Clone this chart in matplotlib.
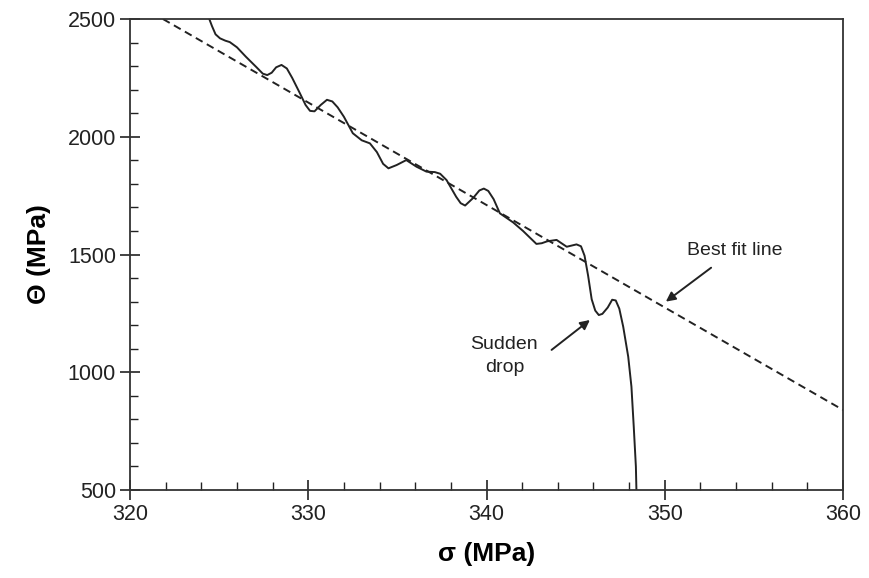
import matplotlib
matplotlib.use('Agg')
import matplotlib.pyplot as plt
from matplotlib.ticker import MultipleLocator

plt.rcParams['font.family'] = ['Liberation Sans', 'DejaVu Sans']

# ── Data ────────────────────────────────────────────────────
sigma = [324.45, 324.6, 324.8, 325.05, 325.35, 325.6, 326.0, 326.5, 327.1, 327.45,
         327.7, 327.95, 328.2, 328.5, 328.8, 329.1, 329.53, 329.85, 330.1, 330.35,
         330.7, 331.05, 331.35, 331.65, 332.0, 332.5, 333.0, 333.46, 333.85, 334.2,
         334.5, 334.96, 335.5, 336.07, 336.63, 337.1, 337.4, 337.76, 338.3, 338.55,
         338.8, 339.25, 339.6, 339.85, 340.1, 340.4, 340.75, 341.5, 342.05, 342.8,
         343.1, 343.4, 343.93, 344.5, 345.05, 345.3, 345.5, 345.7, 345.9, 346.1,
         346.3, 346.5, 346.8, 347.05, 347.25, 347.45, 347.67, 347.95, 348.13, 348.26,
         348.38, 348.41]
theta = [2500, 2470, 2435, 2418, 2408, 2402, 2380, 2340, 2295, 2268,
         2262, 2272, 2295, 2305, 2290, 2250, 2185, 2135, 2110, 2108,
         2135, 2157, 2150, 2125, 2085, 2015, 1985, 1972, 1935, 1885,
         1866, 1880, 1901, 1873, 1852, 1850, 1843, 1816, 1745, 1718,
         1708, 1740, 1772, 1780, 1770, 1735, 1675, 1636, 1600, 1545,
         1548, 1556, 1562, 1533, 1543, 1535, 1495, 1410, 1310, 1262,
         1243, 1248, 1275, 1308, 1305, 1270, 1193, 1066, 939, 769,
         599, 500]

fit_x = [321.85, 360]
fit_y = [2500, 840]

# ── Plot ─────────────────────────────────────────────────────
fig = plt.figure(figsize=(8.7, 5.78), dpi=100)
ax = fig.add_axes([0.1494, 0.1522, 0.8196, 0.8149])

ax.plot(sigma, theta, color='#222222', lw=1.4, solid_joinstyle='round')
ax.plot(fit_x, fit_y, color='#222222', lw=1.4, ls=(0, (4, 2.5)))

ax.set_xlim(320, 360)
ax.set_ylim(500, 2500)
ax.xaxis.set_major_locator(MultipleLocator(10))
ax.xaxis.set_minor_locator(MultipleLocator(2))
ax.yaxis.set_major_locator(MultipleLocator(500))
ax.yaxis.set_minor_locator(MultipleLocator(100))
ax.tick_params(which='major', direction='inout', length=14, width=1.2,
               labelsize=15.5, pad=3, colors='#222222')
ax.tick_params(which='minor', direction='in', length=6, width=1.0, colors='#222222')
for sp in ax.spines.values():
    sp.set_linewidth(1.3)
    sp.set_color('#333333')

ax.set_xlabel('σ (MPa)', fontsize=19, fontweight='bold', labelpad=12)
ax.set_ylabel('Θ (MPa)', fontsize=19, fontweight='bold', labelpad=12)

arrow = dict(arrowstyle='-|>', color='#222222', lw=1.4, mutation_scale=14, shrinkA=0, shrinkB=0)
ax.annotate('', xy=(345.8, 1222), xytext=(343.65, 1095), arrowprops=arrow)
ax.text(341.0, 1069, 'Sudden\ndrop', fontsize=14, ha='center', va='center',
        linespacing=1.4, color='#222222')
ax.annotate('', xy=(350.06, 1300), xytext=(352.6, 1444), arrowprops=arrow)
ax.text(353.9, 1519, 'Best fit line', fontsize=14, ha='center', va='center', color='#222222')

fig.savefig('out.png', dpi=100)
